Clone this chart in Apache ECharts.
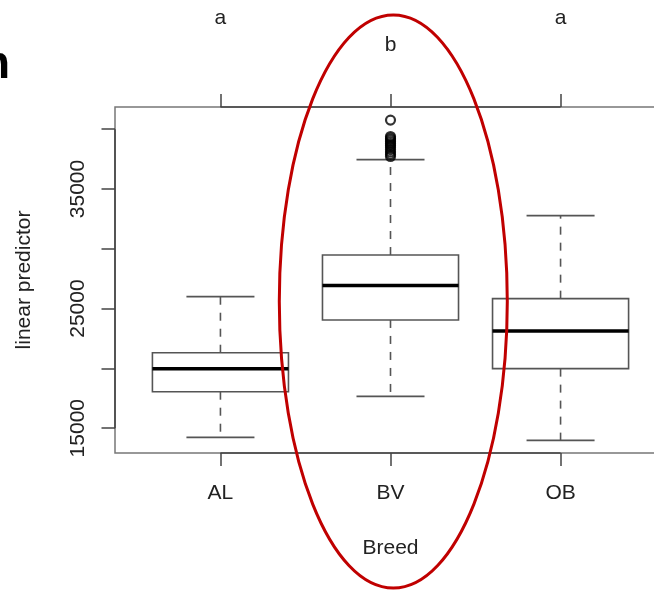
<!DOCTYPE html>
<html>
<head>
<meta charset="utf-8">
<script src="https://cdn.jsdelivr.net/npm/echarts@6/dist/echarts.min.js"></script>
<style>html,body{margin:0;padding:0;background:#fff;}#c{width:654px;height:592px;}</style>
</head>
<body>
<div id="c"></div>
<script>
const categories = ['AL', 'BV', 'OB'];
const groupLetters = ['a', 'b', 'a'];
const whiskerLow = [14230, 17660, 13980];
const q1 = [18050, 24050, 19980];
const median = [19980, 26940, 23130];
const q3 = [21310, 29480, 25830];
const whiskerHigh = [26000, 37460, 32770];
const outliersBV = [40760, 39390, 39250, 39100, 38950, 38800, 38650, 38500, 38300, 38100, 37900, 37720];
const yTicks = [15000, 20000, 25000, 30000, 35000, 40000];
const yTickLabels = [15000, 25000, 35000];
const catPositions = [1, 2, 3];

const FONT = 'Liberation Sans, Arial, sans-serif';
const FS = 21;
const TXT = '#222';
const LINE = '#555';
const AXIS = '#444';
const FRAME = '#777';

const boxData = categories.map((c, i) => [catPositions[i], whiskerLow[i], q1[i], median[i], q3[i], whiskerHigh[i]]);
const outlierData = outliersBV.map(v => [catPositions[1], v]);
const axisSpan = [[catPositions[0], catPositions[catPositions.length - 1], yTicks[0], yTicks[yTicks.length - 1]]];

const chart = echarts.init(document.getElementById('c'), null, {renderer: 'canvas'});
chart.setOption({
  animation: false,
  backgroundColor: '#fff',
  grid: {left: 115, top: 107, width: 551, height: 346, show: true, borderColor: FRAME, borderWidth: 1.5,
         backgroundColor: 'transparent', containLabel: false, outerBoundsMode: 'none'},
  xAxis: [{
    type: 'value', min: 0.38, max: 3.62, position: 'bottom',
    axisLine: {show: false}, splitLine: {show: false},
    axisTick: {show: true, customValues: catPositions, length: 13, lineStyle: {color: AXIS, width: 1.5}},
    axisLabel: {customValues: catPositions, formatter: v => categories[Math.round(v) - 1], margin: 30, fontSize: FS, color: TXT, fontFamily: FONT},
    name: 'Breed', nameLocation: 'middle', nameGap: 85,
    nameTextStyle: {fontSize: FS, color: TXT, fontFamily: FONT}
  }, {
    type: 'value', min: 0.38, max: 3.62, position: 'top',
    axisLine: {show: false}, splitLine: {show: false},
    axisTick: {show: true, customValues: catPositions, length: 13, lineStyle: {color: AXIS, width: 1.5}},
    axisLabel: {
      customValues: catPositions, margin: 51, fontSize: FS, color: TXT, fontFamily: FONT,
      formatter: v => { const t = groupLetters[Math.round(v) - 1]; return t === 'b' ? '{lo|' + t + '}' : '{hi|' + t + '}'; },
      rich: {
        hi: {fontSize: FS, color: TXT, fontFamily: FONT, padding: [0, 0, 27, 0]},
        lo: {fontSize: FS, color: TXT, fontFamily: FONT}
      }
    }
  }],
  yAxis: {
    type: 'value', min: 12925, max: 41857,
    axisLine: {show: false}, splitLine: {show: false},
    axisTick: {show: true, customValues: yTicks, length: 13.5, lineStyle: {color: AXIS, width: 1.5}},
    axisLabel: {customValues: yTickLabels, formatter: v => String(v), rotate: 90, margin: 26, fontSize: FS, color: TXT, fontFamily: FONT},
    name: 'linear predictor', nameLocation: 'middle', nameGap: 80, nameRotate: 90,
    nameTextStyle: {fontSize: FS, color: TXT, fontFamily: FONT}
  },
  series: [{
    type: 'custom',
    xAxisIndex: 0, yAxisIndex: 0,
    data: axisSpan,
    silent: true,
    renderItem: function (params, api) {
      const cs = params.coordSys;
      const xa = api.coord([api.value(0), api.value(2)]);
      const xb = api.coord([api.value(1), api.value(3)]);
      const st = {stroke: AXIS, lineWidth: 1.6};
      return {
        type: 'group',
        children: [
          {type: 'line', shape: {x1: xa[0], y1: cs.y + cs.height, x2: xb[0], y2: cs.y + cs.height}, style: st},
          {type: 'line', shape: {x1: xa[0], y1: cs.y, x2: xb[0], y2: cs.y}, style: st},
          {type: 'line', shape: {x1: cs.x, y1: xa[1], x2: cs.x, y2: xb[1]}, style: st}
        ]
      };
    }
  }, {
    type: 'custom',
    xAxisIndex: 0, yAxisIndex: 0,
    data: boxData,
    renderItem: function (params, api) {
      const x = api.value(0);
      const lo = api.coord([x, api.value(1)]);
      const b1 = api.coord([x, api.value(2)]);
      const md = api.coord([x, api.value(3)]);
      const b3 = api.coord([x, api.value(4)]);
      const hi = api.coord([x, api.value(5)]);
      const bw = api.size([0.8, 0])[0];
      const cw = bw / 2;
      const cx = lo[0];
      const dash = {stroke: LINE, lineWidth: 1.6, lineDash: [8, 8]};
      const solid = {stroke: LINE, lineWidth: 1.6};
      return {
        type: 'group',
        children: [
          {type: 'line', shape: {x1: cx, y1: b1[1], x2: cx, y2: lo[1]}, style: dash},
          {type: 'line', shape: {x1: cx, y1: b3[1], x2: cx, y2: hi[1]}, style: dash},
          {type: 'line', shape: {x1: cx - cw / 2, y1: lo[1], x2: cx + cw / 2, y2: lo[1]}, style: solid},
          {type: 'line', shape: {x1: cx - cw / 2, y1: hi[1], x2: cx + cw / 2, y2: hi[1]}, style: solid},
          {type: 'rect', shape: {x: cx - bw / 2, y: b3[1], width: bw, height: b1[1] - b3[1]}, style: {fill: '#fff', stroke: LINE, lineWidth: 1.6}},
          {type: 'line', shape: {x1: cx - bw / 2, y1: md[1], x2: cx + bw / 2, y2: md[1]}, style: {stroke: '#000', lineWidth: 3.5}}
        ]
      };
    }
  }, {
    type: 'scatter',
    xAxisIndex: 0, yAxisIndex: 0,
    data: outlierData,
    symbol: 'circle', symbolSize: 9,
    itemStyle: {color: 'rgba(0,0,0,0)', borderColor: '#000', borderWidth: 2.2}
  }],
  graphic: [{
    type: 'ellipse',
    shape: {cx: 393.3, cy: 301.5, rx: 114, ry: 286.5},
    style: {fill: 'none', stroke: '#c00000', lineWidth: 3},
    z: 100
  }, {
    type: 'text',
    left: -18, top: 42,
    style: {text: 'n', font: 'bold 46px Liberation Sans, Arial, sans-serif', fill: '#000'},
    z: 100
  }]
});
</script>
</body>
</html>
